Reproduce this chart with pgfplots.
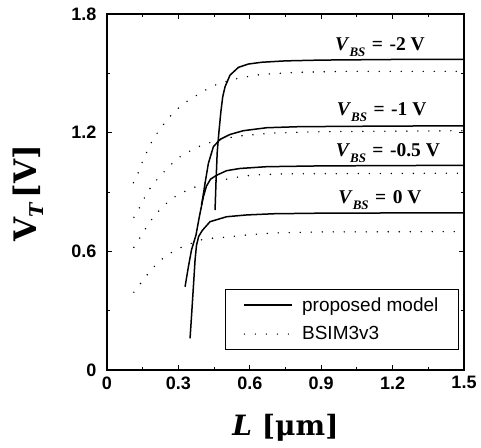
\documentclass[border=0pt]{standalone}
\usepackage{fontspec}
\setmainfont{Liberation Serif}
\setsansfont{Liberation Sans}
\newfontfamily\labelfont{DejaVu Serif}
\usepackage{pgfplots}
\pgfplotsset{compat=1.18}
\newcommand{\vbs}[1]{\fontsize{19.5}{19.5}\selectfont\bfseries\textit{V}\raisebox{-6pt}{\fontsize{13}{13}\selectfont\textit{BS}}\,\,=\,\,#1}
\begin{document}
\begin{tikzpicture}
\begin{axis}[
  scale only axis, width=357pt, height=356pt,
  xmin=0, xmax=1.5, ymin=0, ymax=1.8,
  xtick={0,0.3,0.6,0.9,1.2,1.5}, xticklabels={0,0.3,0.6,0.9,1.2,1.5},
  ytick={0,0.6,1.2,1.8}, yticklabels={0,0.6,1.2,1.8},
  minor tick num=1,
  tick align=inside, major tick length=5pt, minor tick length=3pt,
  tick style={line width=0.9pt, black},
  axis line style={line width=1.4pt},
  /pgf/number format/assume math mode=true,
  ticklabel style={font=\fontsize{18}{18}\selectfont\sffamily\bfseries},
  xticklabel style={yshift=-3pt},
  yticklabel style={xshift=-7pt},
  xlabel={\itshape L\upshape\ [μm]},
  xlabel style={font=\fontsize{28}{28}\selectfont\labelfont\bfseries, at={(axis description cs:0.5,0)}, anchor=center, yshift=-58pt},
  ylabel={V\raisebox{-7pt}{\fontsize{19}{19}\selectfont\itshape T}\,[V]},
  ylabel style={font=\fontsize{31}{31}\selectfont\labelfont\bfseries, at={(axis description cs:0,0.497)}, anchor=center, yshift=79pt},
  legend style={at={(rel axis cs:0.986,0.056)}, anchor=south east, draw=black, line width=1.2pt,
    font=\fontsize{19}{19}\selectfont\sffamily, row sep=10pt, inner xsep=18pt, inner ysep=6pt,
    /tikz/every odd column/.append style={column sep=7pt}},
  legend cell align=left,
  legend image code/.code={\draw[#1, line width=1.4pt] (0pt,0pt) -- (48pt,0pt);},
]
\coordinate (ll) at (rel axis cs:0,0);
\coordinate (ur) at (rel axis cs:1,1);
% proposed model
\addplot[black, line width=1.5pt] coordinates {
(0.454,0.809) (0.458,0.95) (0.463,1.10) (0.470,1.20) (0.478,1.30) (0.486,1.38) (0.496,1.432) (0.517,1.491) (0.552,1.530) (0.594,1.547) (0.65,1.556) (0.75,1.563) (0.9,1.567) (1.2,1.570) (1.5,1.570)};
\addlegendentry{proposed model}
\addplot[black, line width=1.6pt, line cap=round, dash pattern=on 0pt off 11pt] coordinates {
(0.111,0.947) (0.132,0.999) (0.15,1.057) (0.171,1.112) (0.193,1.166) (0.224,1.22) (0.255,1.269) (0.29,1.314) (0.329,1.353) (0.374,1.387) (0.419,1.419) (0.461,1.444) (0.51,1.462) (0.562,1.478) (0.65,1.495) (0.8,1.505) (1.0,1.51) (1.5,1.51)};
\addlegendentry{BSIM3v3}
\addplot[black, line width=1.5pt, forget plot] coordinates {
(0.397,0.834) (0.405,0.89) (0.412,0.944) (0.426,1.045) (0.447,1.129) (0.475,1.166) (0.517,1.191) (0.573,1.21) (0.671,1.225) (0.8,1.23) (1.0,1.232) (1.5,1.235)};
\addplot[black, line width=1.5pt, forget plot] coordinates {
(0.328,0.421) (0.342,0.522) (0.355,0.607) (0.374,0.683) (0.388,0.775) (0.405,0.876) (0.418,0.93) (0.435,0.965) (0.461,0.985) (0.503,1.008) (0.559,1.019) (0.671,1.028) (0.9,1.032) (1.5,1.035)};
\addplot[black, line width=1.5pt, forget plot] coordinates {
(0.349,0.16) (0.355,0.27) (0.363,0.421) (0.37,0.556) (0.376,0.63) (0.385,0.675) (0.4,0.705) (0.433,0.75) (0.503,0.775) (0.587,0.784) (0.7,0.79) (0.9,0.793) (1.5,0.795)};
% BSIM3v3
\addplot[black, line width=1.6pt, line cap=round, dash pattern=on 0pt off 11pt, forget plot] coordinates {
(0.113,0.772) (0.139,0.826) (0.162,0.881) (0.187,0.93) (0.22,0.977) (0.258,1.025) (0.29,1.065) (0.33,1.095) (0.377,1.126) (0.421,1.146) (0.47,1.163) (0.52,1.176) (0.57,1.185) (0.7,1.198) (0.9,1.205) (1.5,1.21)};
\addplot[black, line width=1.6pt, line cap=round, dash pattern=on 0pt off 11pt, forget plot] coordinates {
(0.113,0.62) (0.141,0.674) (0.169,0.728) (0.199,0.78) (0.234,0.826) (0.274,0.868) (0.318,0.898) (0.366,0.923) (0.405,0.944) (0.46,0.958) (0.51,0.966) (0.556,0.977) (0.615,0.986) (0.75,0.992) (1.5,0.995)};
\addplot[black, line width=1.6pt, line cap=round, dash pattern=on 0pt off 11pt, forget plot] coordinates {
(0.113,0.393) (0.143,0.441) (0.174,0.489) (0.208,0.536) (0.248,0.578) (0.296,0.612) (0.342,0.635) (0.391,0.657) (0.44,0.666) (0.492,0.671) (0.542,0.677) (0.591,0.683) (0.7,0.693) (0.9,0.698) (1.5,0.70)};
\node at (axis cs:1.147,1.633) {\vbs{-2 V}};
\node at (axis cs:1.154,1.306) {\vbs{-1 V}};
\node at (axis cs:1.18,1.097) {\vbs{-0.5 V}};
\node at (axis cs:1.147,0.86) {\vbs{0 V}};
\end{axis}
\pgfresetboundingbox
\path ([shift={(-107pt,-77pt)}]ll) rectangle ([shift={(17pt,14pt)}]ur);
\end{tikzpicture}
\end{document}
